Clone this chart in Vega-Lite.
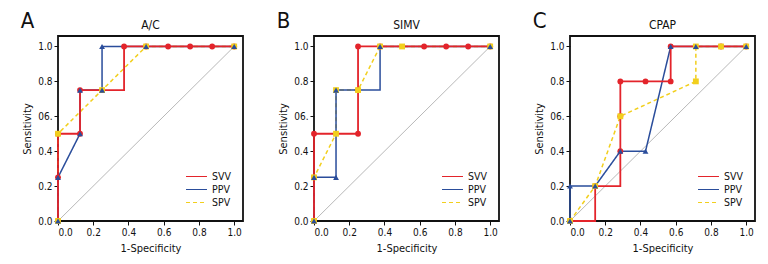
{
  "$schema": "https://vega.github.io/schema/vega-lite/v6.json",
  "padding": {"left": 20, "top": 10, "right": 5, "bottom": 5},
  "spacing": 32,
  "datasets": {
    "A": [
      {"series": "SVV", "fpr": 0, "tpr": 0}, {"series": "SVV", "fpr": 0, "tpr": 0.25}, {"series": "SVV", "fpr": 0, "tpr": 0.5},
      {"series": "SVV", "fpr": 0.125, "tpr": 0.5}, {"series": "SVV", "fpr": 0.125, "tpr": 0.75}, {"series": "SVV", "fpr": 0.375, "tpr": 1},
      {"series": "SVV", "fpr": 0.5, "tpr": 1}, {"series": "SVV", "fpr": 0.625, "tpr": 1}, {"series": "SVV", "fpr": 0.75, "tpr": 1},
      {"series": "SVV", "fpr": 0.875, "tpr": 1}, {"series": "SVV", "fpr": 1, "tpr": 1},
      {"series": "PPV", "fpr": 0, "tpr": 0}, {"series": "PPV", "fpr": 0, "tpr": 0.25}, {"series": "PPV", "fpr": 0.125, "tpr": 0.5},
      {"series": "PPV", "fpr": 0.125, "tpr": 0.75}, {"series": "PPV", "fpr": 0.25, "tpr": 0.75}, {"series": "PPV", "fpr": 0.25, "tpr": 1},
      {"series": "PPV", "fpr": 0.5, "tpr": 1}, {"series": "PPV", "fpr": 1, "tpr": 1},
      {"series": "SPV", "fpr": 0, "tpr": 0}, {"series": "SPV", "fpr": 0, "tpr": 0.5}, {"series": "SPV", "fpr": 0.25, "tpr": 0.75},
      {"series": "SPV", "fpr": 0.5, "tpr": 1}, {"series": "SPV", "fpr": 1, "tpr": 1}
    ],
    "B": [
      {"series": "SVV", "fpr": 0, "tpr": 0}, {"series": "SVV", "fpr": 0, "tpr": 0.25}, {"series": "SVV", "fpr": 0, "tpr": 0.5},
      {"series": "SVV", "fpr": 0.25, "tpr": 0.5}, {"series": "SVV", "fpr": 0.25, "tpr": 0.75}, {"series": "SVV", "fpr": 0.25, "tpr": 1},
      {"series": "SVV", "fpr": 0.375, "tpr": 1}, {"series": "SVV", "fpr": 0.625, "tpr": 1}, {"series": "SVV", "fpr": 0.75, "tpr": 1},
      {"series": "SVV", "fpr": 0.875, "tpr": 1}, {"series": "SVV", "fpr": 1, "tpr": 1},
      {"series": "PPV", "fpr": 0, "tpr": 0}, {"series": "PPV", "fpr": 0, "tpr": 0.25}, {"series": "PPV", "fpr": 0.125, "tpr": 0.25},
      {"series": "PPV", "fpr": 0.125, "tpr": 0.75}, {"series": "PPV", "fpr": 0.375, "tpr": 1}, {"series": "PPV", "fpr": 1, "tpr": 1},
      {"series": "SPV", "fpr": 0, "tpr": 0}, {"series": "SPV", "fpr": 0, "tpr": 0.25}, {"series": "SPV", "fpr": 0.125, "tpr": 0.5},
      {"series": "SPV", "fpr": 0.125, "tpr": 0.75}, {"series": "SPV", "fpr": 0.25, "tpr": 0.75}, {"series": "SPV", "fpr": 0.375, "tpr": 1},
      {"series": "SPV", "fpr": 0.5, "tpr": 1}, {"series": "SPV", "fpr": 1, "tpr": 1}
    ],
    "C": [
      {"series": "SVV", "fpr": 0, "tpr": 0}, {"series": "SVV", "fpr": 0.1429, "tpr": 0.2}, {"series": "SVV", "fpr": 0.2857, "tpr": 0.4},
      {"series": "SVV", "fpr": 0.2857, "tpr": 0.6}, {"series": "SVV", "fpr": 0.2857, "tpr": 0.8}, {"series": "SVV", "fpr": 0.4286, "tpr": 0.8},
      {"series": "SVV", "fpr": 0.5714, "tpr": 0.8}, {"series": "SVV", "fpr": 0.5714, "tpr": 1}, {"series": "SVV", "fpr": 0.8571, "tpr": 1},
      {"series": "SVV", "fpr": 1, "tpr": 1},
      {"series": "PPV", "fpr": 0, "tpr": 0}, {"series": "PPV", "fpr": 0, "tpr": 0.2}, {"series": "PPV", "fpr": 0.1429, "tpr": 0.2},
      {"series": "PPV", "fpr": 0.2857, "tpr": 0.4}, {"series": "PPV", "fpr": 0.4286, "tpr": 0.4}, {"series": "PPV", "fpr": 0.5714, "tpr": 1},
      {"series": "PPV", "fpr": 0.7143, "tpr": 1}, {"series": "PPV", "fpr": 1, "tpr": 1},
      {"series": "SPV", "fpr": 0, "tpr": 0}, {"series": "SPV", "fpr": 0.1429, "tpr": 0.2}, {"series": "SPV", "fpr": 0.2857, "tpr": 0.6},
      {"series": "SPV", "fpr": 0.7143, "tpr": 0.8}, {"series": "SPV", "fpr": 0.7143, "tpr": 1}, {"series": "SPV", "fpr": 0.8571, "tpr": 1},
      {"series": "SPV", "fpr": 1, "tpr": 1}
    ],
    "diag": [{"x0": 0, "y0": 0, "x1": 1, "y1": 1}]
  },
  "resolve": {"scale": {"color": "independent", "strokeDash": "independent", "fill": "independent", "shape": "independent"}, "legend": {"color": "independent", "strokeDash": "independent"}},
  "hconcat": [
    {
      "title": {"text": "A", "anchor": "start", "frame": "bounds", "fontSize": 22, "fontWeight": "normal", "offset": -15},
      "resolve": {"scale": {"color": "independent", "strokeDash": "independent", "fill": "independent", "shape": "independent"}, "legend": {"color": "independent", "strokeDash": "independent"}},
      "vconcat": [
        {
          "title": {"text": "A/C", "fontSize": 12, "fontWeight": "normal", "offset": 4},
          "width": 185, "height": 185,
          "data": {"name": "A"},
          "encoding": {
            "x": {"field": "fpr", "type": "quantitative", "title": "1-Specificity", "scale": {"domain": [0, 1.05], "nice": false, "zero": false}, "axis": {"values": [0, 0.2, 0.4, 0.6, 0.8, 1.0], "format": ".1f"}},
            "y": {"field": "tpr", "type": "quantitative", "title": "Sensitivity", "scale": {"domain": [0, 1.06], "nice": false, "zero": false}, "axis": {"values": [0, 0.2, 0.4, 0.6, 0.8, 1.0], "labelExpr": "datum.value == 0.6 ? '06.' : format(datum.value, '.1f')"}}
          },
          "layer": [
            {"data": {"name": "diag"}, "mark": {"type": "rule", "color": "#9a9a9a", "strokeWidth": 0.7}, "encoding": {"x": {"field": "x0", "type": "quantitative"}, "y": {"field": "y0", "type": "quantitative"}, "x2": {"field": "x1"}, "y2": {"field": "y1"}}},
            {"transform": [{"filter": "datum.series == 'SPV'"}], "mark": {"type": "line", "strokeWidth": 1.5, "clip": false}, "encoding": {"color": {"field": "series", "type": "nominal", "scale": {"domain": ["SVV", "PPV", "SPV"], "range": ["#e3242b", "#2a4d9b", "#f2cf1d"]}, "legend": {"title": null, "orient": "bottom-right", "symbolType": "stroke", "encode": {"symbols": {"update": {"strokeDash": {"signal": "datum.value === 'SPV' ? [3, 2] : [1, 0]"}}}}}}, "strokeDash": {"field": "series", "type": "nominal", "scale": {"domain": ["SVV", "PPV", "SPV"], "range": [[1, 0], [1, 0], [4, 3]]}, "legend": null}}},
            {"transform": [{"filter": "datum.series == 'PPV'"}], "mark": {"type": "line", "strokeWidth": 1.5, "clip": false}, "encoding": {"color": {"field": "series", "type": "nominal"}, "strokeDash": {"field": "series", "type": "nominal"}}},
            {"transform": [{"filter": "datum.series == 'SVV'"}], "mark": {"type": "line", "strokeWidth": 1.8, "interpolate": "step-after", "clip": false}, "encoding": {"color": {"field": "series", "type": "nominal"}, "strokeDash": {"field": "series", "type": "nominal"}}},
            {"mark": {"type": "point", "filled": true, "size": 34, "opacity": 1, "clip": false}, "encoding": {"fill": {"field": "series", "type": "nominal", "scale": {"domain": ["SPV", "PPV", "SVV"], "range": ["#f2cf1d", "#2a4d9b", "#e3242b"]}, "legend": null}, "shape": {"field": "series", "type": "nominal", "scale": {"domain": ["SPV", "PPV", "SVV"], "range": ["square", "triangle-up", "circle"]}, "legend": null}, "order": {"field": "series", "sort": "descending"}}}
          ]
        }
      ]
    },
    {
      "title": {"text": "B", "anchor": "start", "frame": "bounds", "fontSize": 22, "fontWeight": "normal", "offset": -15},
      "resolve": {"scale": {"color": "independent", "strokeDash": "independent", "fill": "independent", "shape": "independent"}, "legend": {"color": "independent", "strokeDash": "independent"}},
      "vconcat": [
        {
          "title": {"text": "SIMV", "fontSize": 12, "fontWeight": "normal", "offset": 4},
          "width": 185, "height": 185,
          "data": {"name": "B"},
          "encoding": {
            "x": {"field": "fpr", "type": "quantitative", "title": "1-Specificity", "scale": {"domain": [0, 1.05], "nice": false, "zero": false}, "axis": {"values": [0, 0.2, 0.4, 0.6, 0.8, 1.0], "format": ".1f"}},
            "y": {"field": "tpr", "type": "quantitative", "title": "Sensitivity", "scale": {"domain": [0, 1.06], "nice": false, "zero": false}, "axis": {"values": [0, 0.2, 0.4, 0.6, 0.8, 1.0], "labelExpr": "datum.value == 0.6 ? '06.' : format(datum.value, '.1f')"}}
          },
          "layer": [
            {"data": {"name": "diag"}, "mark": {"type": "rule", "color": "#9a9a9a", "strokeWidth": 0.7}, "encoding": {"x": {"field": "x0", "type": "quantitative"}, "y": {"field": "y0", "type": "quantitative"}, "x2": {"field": "x1"}, "y2": {"field": "y1"}}},
            {"transform": [{"filter": "datum.series == 'SPV'"}], "mark": {"type": "line", "strokeWidth": 1.5, "clip": false}, "encoding": {"color": {"field": "series", "type": "nominal", "scale": {"domain": ["SVV", "PPV", "SPV"], "range": ["#e3242b", "#2a4d9b", "#f2cf1d"]}, "legend": {"title": null, "orient": "bottom-right", "symbolType": "stroke", "encode": {"symbols": {"update": {"strokeDash": {"signal": "datum.value === 'SPV' ? [3, 2] : [1, 0]"}}}}}}, "strokeDash": {"field": "series", "type": "nominal", "scale": {"domain": ["SVV", "PPV", "SPV"], "range": [[1, 0], [1, 0], [4, 3]]}, "legend": null}}},
            {"transform": [{"filter": "datum.series == 'PPV'"}], "mark": {"type": "line", "strokeWidth": 1.5, "interpolate": "step-after", "clip": false}, "encoding": {"color": {"field": "series", "type": "nominal"}, "strokeDash": {"field": "series", "type": "nominal"}}},
            {"transform": [{"filter": "datum.series == 'SVV'"}], "mark": {"type": "line", "strokeWidth": 1.8, "interpolate": "step-after", "clip": false}, "encoding": {"color": {"field": "series", "type": "nominal"}, "strokeDash": {"field": "series", "type": "nominal"}}},
            {"mark": {"type": "point", "filled": true, "size": 34, "opacity": 1, "clip": false}, "encoding": {"fill": {"field": "series", "type": "nominal", "scale": {"domain": ["SPV", "PPV", "SVV"], "range": ["#f2cf1d", "#2a4d9b", "#e3242b"]}, "legend": null}, "shape": {"field": "series", "type": "nominal", "scale": {"domain": ["SPV", "PPV", "SVV"], "range": ["square", "triangle-up", "circle"]}, "legend": null}, "order": {"field": "series", "sort": "descending"}}}
          ]
        }
      ]
    },
    {
      "title": {"text": "C", "anchor": "start", "frame": "bounds", "fontSize": 22, "fontWeight": "normal", "offset": -15},
      "resolve": {"scale": {"color": "independent", "strokeDash": "independent", "fill": "independent", "shape": "independent"}, "legend": {"color": "independent", "strokeDash": "independent"}},
      "vconcat": [
        {
          "title": {"text": "CPAP", "fontSize": 12, "fontWeight": "normal", "offset": 4},
          "width": 185, "height": 185,
          "data": {"name": "C"},
          "encoding": {
            "x": {"field": "fpr", "type": "quantitative", "title": "1-Specificity", "scale": {"domain": [0, 1.05], "nice": false, "zero": false}, "axis": {"values": [0, 0.2, 0.4, 0.6, 0.8, 1.0], "format": ".1f"}},
            "y": {"field": "tpr", "type": "quantitative", "title": "Sensitivity", "scale": {"domain": [0, 1.06], "nice": false, "zero": false}, "axis": {"values": [0, 0.2, 0.4, 0.6, 0.8, 1.0], "labelExpr": "datum.value == 0.6 ? '06.' : format(datum.value, '.1f')"}}
          },
          "layer": [
            {"data": {"name": "diag"}, "mark": {"type": "rule", "color": "#9a9a9a", "strokeWidth": 0.7}, "encoding": {"x": {"field": "x0", "type": "quantitative"}, "y": {"field": "y0", "type": "quantitative"}, "x2": {"field": "x1"}, "y2": {"field": "y1"}}},
            {"transform": [{"filter": "datum.series == 'SPV'"}], "mark": {"type": "line", "strokeWidth": 1.5, "clip": false}, "encoding": {"color": {"field": "series", "type": "nominal", "scale": {"domain": ["SVV", "PPV", "SPV"], "range": ["#e3242b", "#2a4d9b", "#f2cf1d"]}, "legend": {"title": null, "orient": "bottom-right", "symbolType": "stroke", "encode": {"symbols": {"update": {"strokeDash": {"signal": "datum.value === 'SPV' ? [3, 2] : [1, 0]"}}}}}}, "strokeDash": {"field": "series", "type": "nominal", "scale": {"domain": ["SVV", "PPV", "SPV"], "range": [[1, 0], [1, 0], [4, 3]]}, "legend": null}}},
            {"transform": [{"filter": "datum.series == 'PPV'"}], "mark": {"type": "line", "strokeWidth": 1.5, "clip": false}, "encoding": {"color": {"field": "series", "type": "nominal"}, "strokeDash": {"field": "series", "type": "nominal"}}},
            {"transform": [{"filter": "datum.series == 'SVV'"}], "mark": {"type": "line", "strokeWidth": 1.8, "interpolate": "step-after", "clip": false}, "encoding": {"color": {"field": "series", "type": "nominal"}, "strokeDash": {"field": "series", "type": "nominal"}}},
            {"mark": {"type": "point", "filled": true, "size": 34, "opacity": 1, "clip": false}, "encoding": {"fill": {"field": "series", "type": "nominal", "scale": {"domain": ["SPV", "PPV", "SVV"], "range": ["#f2cf1d", "#2a4d9b", "#e3242b"]}, "legend": null}, "shape": {"field": "series", "type": "nominal", "scale": {"domain": ["SPV", "PPV", "SVV"], "range": ["square", "triangle-up", "circle"]}, "legend": null}, "order": {"field": "series", "sort": "descending"}}}
          ]
        }
      ]
    }
  ],
  "config": {
    "font": "DejaVu Sans Condensed, Liberation Sans Narrow, Roboto Condensed, sans-serif",
    "view": {"stroke": "#111", "strokeWidth": 1.8},
    "axis": {"domain": false, "grid": false, "tickColor": "#111", "tickSize": 4, "labelFontSize": 10, "labelColor": "#111", "labelPadding": 2, "titleFontSize": 11, "titleFontWeight": "normal", "titleColor": "#111", "titlePadding": 5},
    "title": {"color": "#111"},
    "legend": {"orient": "bottom-right", "offset": 12, "symbolType": "stroke", "symbolSize": 440, "symbolStrokeWidth": 1.2, "labelFontSize": 10.5, "labelColor": "#111", "rowPadding": 0, "clipHeight": 13, "symbolOffset": 0, "padding": 0}
  }
}
